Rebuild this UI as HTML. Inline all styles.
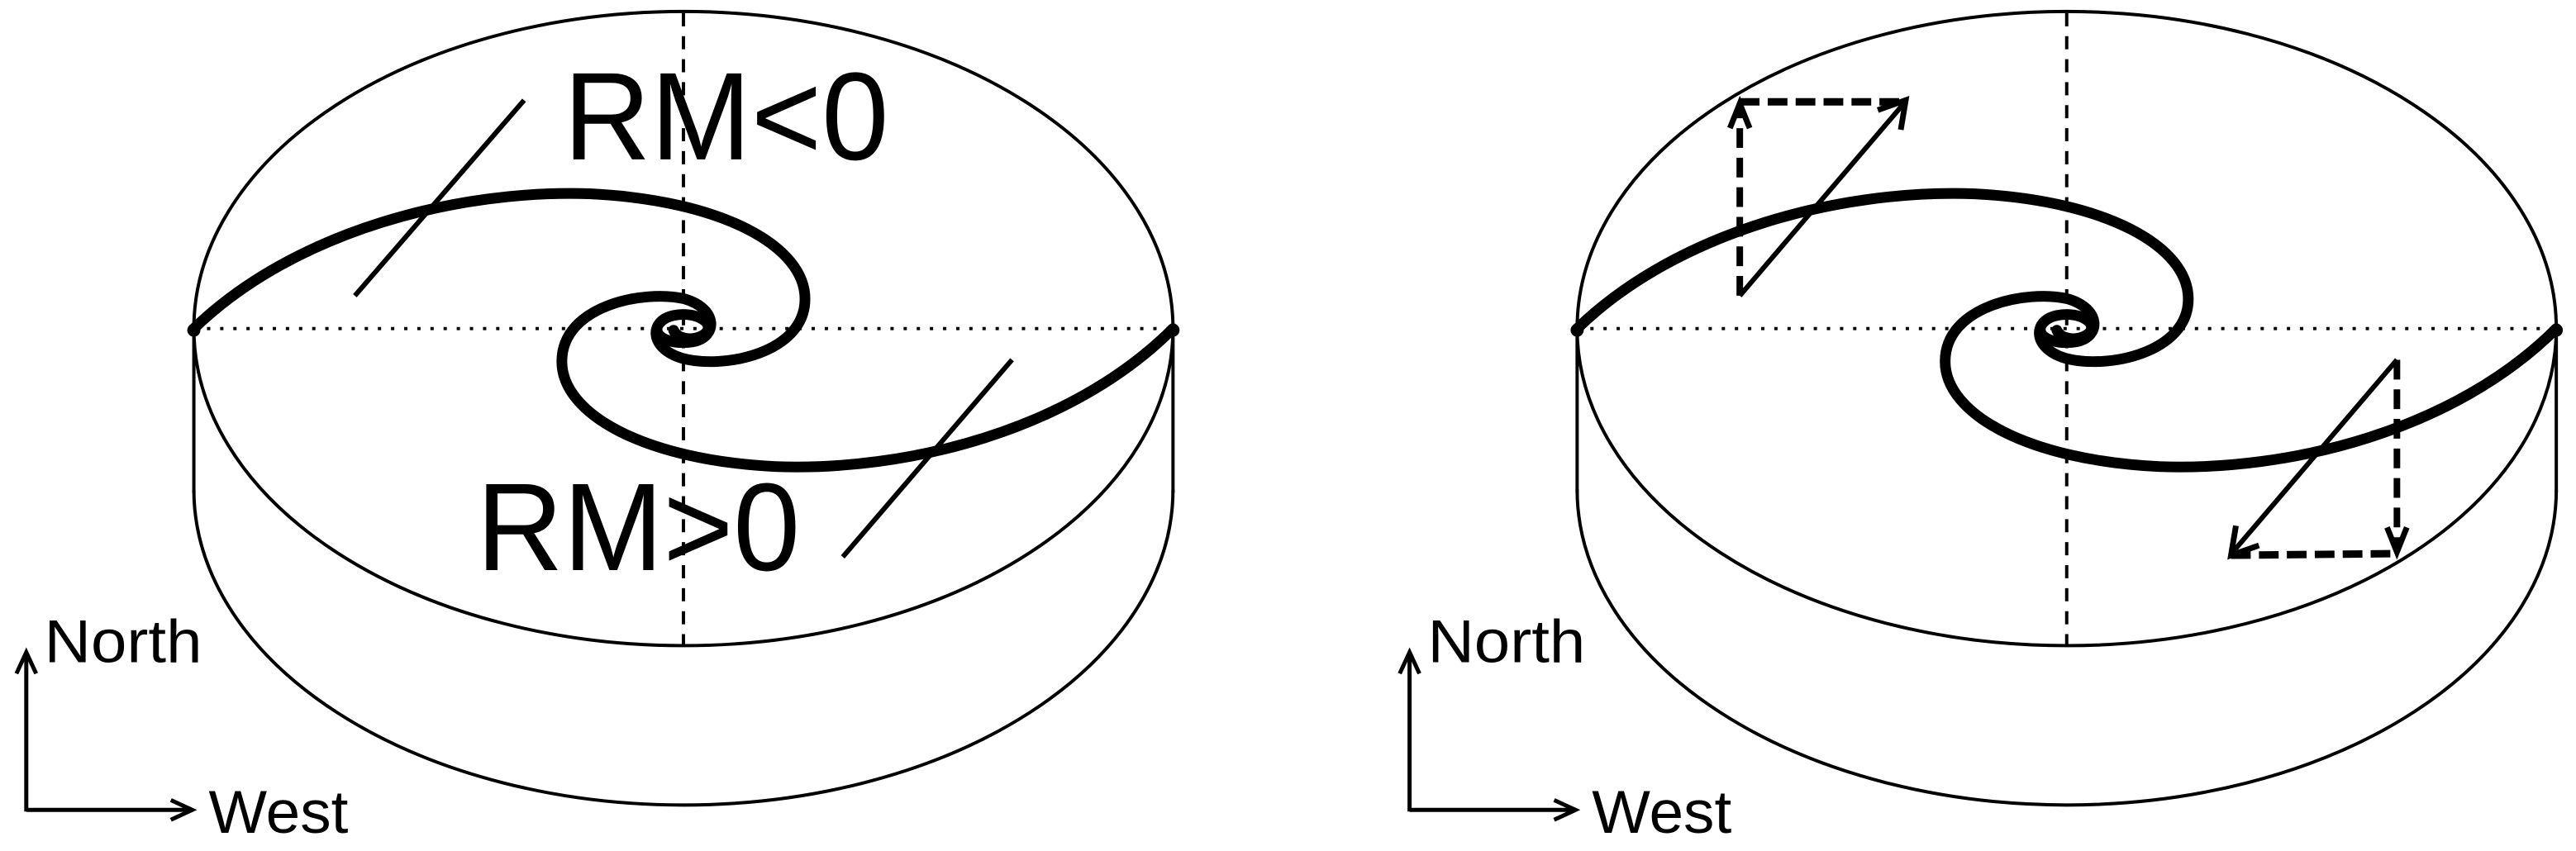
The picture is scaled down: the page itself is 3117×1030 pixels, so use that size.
<!DOCTYPE html>
<html><head><meta charset="utf-8"><style>html,body{margin:0;padding:0;background:#fff}svg{display:block}</style></head>
<body>
<svg width="3117" height="1030" viewBox="0 0 1568 518" preserveAspectRatio="none" xmlns="http://www.w3.org/2000/svg">
<defs>
<g id="disk" fill="none" stroke="#000">
<ellipse cx="416" cy="200" rx="298" ry="193" stroke-width="2"/>
<path d="M118,298 A298,192 0 0 0 714,298" stroke-width="2"/>
<line x1="118" y1="200" x2="118" y2="300" stroke-width="2"/>
<line x1="714" y1="200" x2="714" y2="300" stroke-width="2"/>
<line x1="416" y1="8" x2="416" y2="392" stroke-width="2" stroke-dasharray="8,6"/>
<line x1="118" y1="200" x2="714" y2="200" stroke-width="2" stroke-dasharray="2,6"/>
<path d="M118,200 C180,140 280,115 360,118 C440,122 490,150 490,182 C490,215 440,225 415,218 C395,212 395,195 410,192 C425,189 437,198 428,204 C421,208 412,206 410,201" stroke-width="6.5" stroke-linecap="round"/>
<path d="M714,200 C652,262 552,287 472,284 C392,280 342,252 342,220 C342,186 392,176 417,182 C437,188 437,205 422,208 C410,210 400,206 400,201" stroke-width="6.5" stroke-linecap="round"/>
<circle cx="118" cy="201" r="4" fill="#000" stroke="none"/>
<circle cx="714" cy="201" r="4" fill="#000" stroke="none"/>
</g>
<g id="axes" fill="none" stroke="#000" stroke-width="2.5">
<line x1="16" y1="494" x2="16" y2="399"/>
<polyline points="10,410 16,397 22,410"/>
<line x1="16" y1="493" x2="115" y2="493"/>
<polyline points="104,487 117,493 104,499"/>
</g>
</defs>
<use href="#disk"/>
<use href="#disk" x="842"/>
<use href="#axes"/>
<use href="#axes" x="842"/>
<g font-family="'Liberation Sans', sans-serif" fill="#000">
<text x="343" y="97" font-size="76" textLength="198" lengthAdjust="spacingAndGlyphs">RM&lt;0</text>
<text x="290" y="347" font-size="76" textLength="197" lengthAdjust="spacingAndGlyphs">RM&gt;0</text>
<text x="27" y="403" font-size="37" textLength="96" lengthAdjust="spacingAndGlyphs">North</text>
<text x="127" y="507" font-size="37" textLength="85" lengthAdjust="spacingAndGlyphs">West</text>
<text x="869" y="403" font-size="37" textLength="96" lengthAdjust="spacingAndGlyphs">North</text>
<text x="969" y="507" font-size="37" textLength="85" lengthAdjust="spacingAndGlyphs">West</text>
</g>
<g stroke="#000" fill="none">
<line x1="216" y1="180" x2="319" y2="61" stroke-width="3"/>
<line x1="513" y1="339" x2="616" y2="219" stroke-width="3"/>
<line x1="1059" y1="180" x2="1158" y2="64" stroke-width="3"/>
<polyline points="1143,67 1160,61 1157,79" stroke-width="3.5"/>
<line x1="1059" y1="180" x2="1059" y2="66" stroke-width="4" stroke-dasharray="12,6"/>
<polyline points="1053,78 1059,63 1065,78" stroke-width="3.5"/>
<line x1="1059" y1="62" x2="1157" y2="62" stroke-width="4.5" stroke-dasharray="12,5"/>
<line x1="1459" y1="219" x2="1360" y2="335" stroke-width="3"/>
<polyline points="1375,332 1358,338 1361,320" stroke-width="3.5"/>
<line x1="1459" y1="219" x2="1459" y2="333" stroke-width="4" stroke-dasharray="12,6"/>
<polyline points="1453,321 1459,336 1465,321" stroke-width="3.5"/>
<line x1="1358" y1="338" x2="1457" y2="337" stroke-width="4.5" stroke-dasharray="12,5"/>
</g>
</svg>
</body></html>
